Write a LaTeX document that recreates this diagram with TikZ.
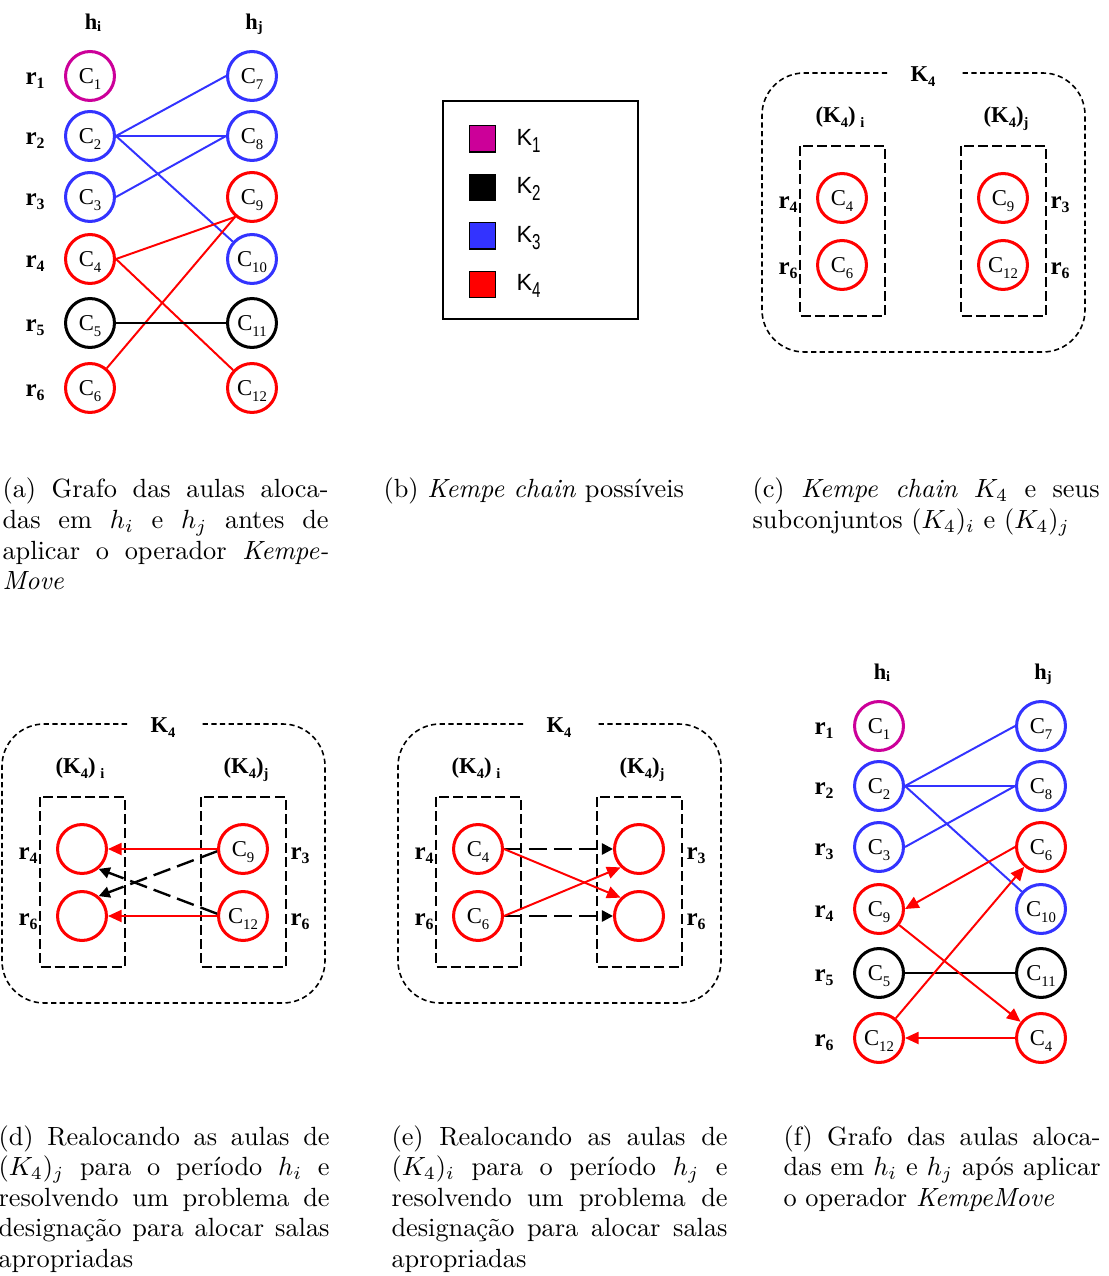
\documentclass[tikz,border=0pt]{standalone}
\usepackage{fontspec}
\usetikzlibrary{arrows.meta}
\newfontfamily\tms{Liberation Serif}
\newfontfamily\arl{Liberation Sans}
\definecolor{kmag}{RGB}{204,0,153}
\definecolor{kblue}{RGB}{51,51,255}
\definecolor{kred}{RGB}{255,0,0}

% labels with lowered indices
\newcommand\cLab[1]{C\raisebox{-2.1pt}{\fontsize{5.6}{6}\selectfont #1}}
\newcommand\rLab[1]{r\raisebox{-1.5pt}{\fontsize{6}{6}\selectfont #1}}
\newcommand\hLab[1]{h\raisebox{-0.8pt}{\fontsize{5.5}{6}\selectfont #1}}
\newcommand\kLab[1]{K\raisebox{-1.8pt}{\fontsize{5.5}{6}\selectfont #1}}
\newcommand\lLab[1]{K\raisebox{-2.8pt}{\scalebox{0.7}[1]{\fontsize{8.2}{9}\selectfont #1}}}
\newcommand\subLab[1]{\raisebox{-1.8pt}{\fontsize{5.5}{6}\selectfont #1}}

% justified caption lines
\newlength\capw
\newcommand\jl[1]{\hbox to \capw{#1}}
\newcommand\capbox[2]{\setlength\capw{#1}\vtop{\baselineskip=11.6pt\lineskiplimit=-20pt\relax #2}}

% frame of the K4 chain with its two subsets
\newcommand\kframe[1]{%
  \draw[outerbox] (887,73) -- (762,73) -- (762,352) -- (1085,352) -- (1085,73) -- (960,73);
  \node[klab] (#1k) at (923,74) {\kLab{4}};
  \draw[innerbox] (800,146) rectangle (885,316);
  \draw[innerbox] (961,146) rectangle (1046,316);
  \node[klab] (#1ki) at (840,115) {(\kLab{4})\hspace{1.8pt}\subLab{i}};
  \node[klab] (#1kj) at (1006,115) {(\kLab{4})\subLab{j}};
  \node[rowlab] (#1ra) at (788,203) {\rLab{4}};
  \node[rowlab] (#1rb) at (788,269) {\rLab{6}};
  \node[rowlab] (#1rc) at (1060,203) {\rLab{3}};
  \node[rowlab] (#1rd) at (1060,269) {\rLab{6}};
}

% headers and row labels of a timetable graph
\newcommand\hframe[1]{%
  \node[hlab] (#1hi) at (93,21.5) {\hLab{i}};
  \node[hlab] (#1hj) at (254,21.5) {\hLab{j}};
  \foreach \k/\y in {1/79,2/139,3/200,4/262,5/326,6/391}
    \node[rowlab] (#1r\k) at (35,\y) {\rLab{\k}};
}

\begin{document}
\begin{tikzpicture}[x=0.38pt,y=-0.38pt,
  circ/.style={circle,draw,line width=1.15pt,minimum size=18.6pt,inner sep=0pt,
    text depth=0pt,font=\tms\fontsize{8.6}{9}\selectfont},
  circmag/.style={circ,draw=kmag},
  circblue/.style={circ,draw=kblue},
  circred/.style={circ,draw=kred},
  circblack/.style={circ,draw=black},
  rowlab/.style={inner sep=0pt,text depth=0pt,font=\tms\bfseries\fontsize{9.5}{10}\selectfont},
  hlab/.style={inner sep=0pt,text depth=0pt,font=\tms\bfseries\fontsize{8.5}{9}\selectfont},
  klab/.style={inner sep=0pt,text depth=0pt,font=\tms\bfseries\fontsize{8.6}{9}\selectfont},
  bline/.style={draw=kblue,line width=0.75pt},
  rline/.style={draw=kred,line width=0.75pt},
  kline/.style={draw=black,line width=0.75pt},
  rarr/.style={rline,-{Triangle[length=5.2pt,width=4.6pt]}},
  darr/.style={draw=black,line width=0.9pt,dash pattern=on 6.8pt off 2.7pt,
    -{Triangle[length=4.2pt,width=4.2pt]}},
  outerbox/.style={line width=0.6pt,dash pattern=on 2pt off 1.3pt,rounded corners=16pt},
  innerbox/.style={line width=0.75pt,dash pattern=on 3.8pt off 1.6pt},
  sq/.style={draw=black,line width=0.4pt,minimum size=9.9pt,inner sep=0pt},
  legk/.style={inner sep=0pt,text depth=0pt,anchor=west,font=\arl\fontsize{8.9}{9}\selectfont},
  capt/.style={inner sep=0pt,anchor=base west,font=\fontsize{10}{11.6}\selectfont}
]
\useasboundingbox[fill=white] (0,0) rectangle (1108,1276);

% ---------- (a) graph before the move ----------
\hframe{a}
\node[circmag]   (a1)  at (90,76)   {\cLab{1}};
\node[circblue]  (a2)  at (90,136)  {\cLab{2}};
\node[circblue]  (a3)  at (90,197)  {\cLab{3}};
\node[circred]   (a4)  at (90,259)  {\cLab{4}};
\node[circblack] (a5)  at (90,323)  {\cLab{5}};
\node[circred]   (a6)  at (90,388)  {\cLab{6}};
\node[circblue]  (a7)  at (252,76)  {\cLab{7}};
\node[circblue]  (a8)  at (252,136) {\cLab{8}};
\node[circred]   (a9)  at (252,197) {\cLab{9}};
\node[circblue]  (a10) at (252,259) {\cLab{10}};
\node[circblack] (a11) at (252,323) {\cLab{11}};
\node[circred]   (a12) at (252,388) {\cLab{12}};
\draw[bline] (a2.east) -- (a7.west);
\draw[bline] (a2.east) -- (a8.west);
\draw[bline] (a3.east) -- (a8.west);
\draw[bline] (a2.east) -- (a10);
\draw[rline] (a4.east) -- (a9.230);
\draw[rline] (a4.east) -- (a12);
\draw[rline] (a6) -- (a9);
\draw[kline] (a5.east) -- (a11.west);

% ---------- (b) legend ----------
\draw[line width=0.75pt] (443,101) rectangle (638,319);
\node[sq,fill=kmag]  (s1) at (482.5,139)   {};
\node[sq,fill=black] (s2) at (482.5,187.5) {};
\node[sq,fill=kblue] (s3) at (482.5,236)   {};
\node[sq,fill=kred]  (s4) at (482.5,284.5) {};
\node[legk] (k1) at (516,137)   {\lLab{1}};
\node[legk] (k2) at (516,185.5) {\lLab{2}};
\node[legk] (k3) at (516,234)   {\lLab{3}};
\node[legk] (k4) at (516,282.5) {\lLab{4}};

% ---------- (c) chain K4 ----------
\kframe{c}
\node[circred] (c4)  at (842,198)  {\cLab{4}};
\node[circred] (c6)  at (842,265)  {\cLab{6}};
\node[circred] (c9)  at (1003,198) {\cLab{9}};
\node[circred] (c12) at (1003,265) {\cLab{12}};

% ---------- (d) moving (K4)_j to h_i ----------
\begin{scope}[shift={(-760,651)}]
\kframe{d}
\node[circred] (dl1) at (842,198)  {};
\node[circred] (dl2) at (842,265)  {};
\node[circred] (d9)  at (1003,198) {\cLab{9}};
\node[circred] (d12) at (1003,265) {\cLab{12}};
\draw[rarr] (d9.west) -- (dl1.east);
\draw[rarr] (d12.west) -- (dl2.east);
\draw[darr] (d9.185) -- (dl2.50);
\draw[darr] (d12.175) -- (dl1.-50);
\end{scope}

% ---------- (e) moving (K4)_i to h_j ----------
\begin{scope}[shift={(-364,651)}]
\kframe{e}
\node[circred] (e4)  at (842,198)  {\cLab{4}};
\node[circred] (e6)  at (842,265)  {\cLab{6}};
\node[circred] (er1) at (1003,198) {};
\node[circred] (er2) at (1003,265) {};
\draw[darr] (e4.east) -- (er1.west);
\draw[darr] (e6.east) -- (er2.west);
\draw[rarr] (e4.east) -- (er2.135);
\draw[rarr] (e6.east) -- (er1.225);
\end{scope}

% ---------- (f) graph after the move ----------
\begin{scope}[shift={(789,650)}]
\hframe{f}
\node[circmag]   (f1)  at (90,76)   {\cLab{1}};
\node[circblue]  (f2)  at (90,136)  {\cLab{2}};
\node[circblue]  (f3)  at (90,197)  {\cLab{3}};
\node[circred]   (f9)  at (90,259)  {\cLab{9}};
\node[circblack] (f5)  at (90,323)  {\cLab{5}};
\node[circred]   (f12) at (90,388)  {\cLab{12}};
\node[circblue]  (f7)  at (252,76)  {\cLab{7}};
\node[circblue]  (f8)  at (252,136) {\cLab{8}};
\node[circred]   (f6)  at (252,197) {\cLab{6}};
\node[circblue]  (f10) at (252,259) {\cLab{10}};
\node[circblack] (f11) at (252,323) {\cLab{11}};
\node[circred]   (f4)  at (252,388) {\cLab{4}};
\draw[bline] (f2.east) -- (f7.west);
\draw[bline] (f2.east) -- (f8.west);
\draw[bline] (f3.east) -- (f8.west);
\draw[bline] (f2.east) -- (f10);
\draw[kline] (f5.east) -- (f11.west);
\draw[rarr] (f6.west) -- (f9.east);
\draw[rarr] (f12) -- (f6);
\draw[rarr] (f9) -- (f4);
\draw[rarr] (f4.west) -- (f12.east);
\end{scope}

% ---------- captions ----------
\node[capt] (capa) at (2,498) {\capbox{123.9pt}{%
  \jl{(a) Grafo das aulas aloca-}%
  \jl{das em $h_i$ e $h_j$ antes de}%
  \jl{aplicar o operador \textit{Kempe-}}%
  \hbox{\textit{Move}}}};
\node[capt] (capb) at (383,498) {(b) \textit{Kempe chain} possíveis};
\node[capt] (capc) at (752,498) {\capbox{131.9pt}{%
  \jl{(c) \textit{Kempe chain} $K_4$ e seus}%
  \hbox{subconjuntos $(K_4)_i$ e $(K_4)_j$}}};
\node[capt] (capd) at (-2,1145) {\capbox{125.8pt}{%
  \jl{(d) Realocando as aulas de}%
  \jl{$(K_4)_j$ para o período $h_i$ e}%
  \jl{resolvendo um problema de}%
  \jl{designação para alocar salas}%
  \hbox{apropriadas}}};
\node[capt] (cape) at (391,1145) {\capbox{127.7pt}{%
  \jl{(e) Realocando as aulas de}%
  \jl{$(K_4)_i$ para o período $h_j$ e}%
  \jl{resolvendo um problema de}%
  \jl{designação para alocar salas}%
  \hbox{apropriadas}}};
\node[capt] (capf) at (783,1145) {\capbox{120.5pt}{%
  \jl{(f) Grafo das aulas aloca-}%
  \jl{das em $h_i$ e $h_j$ após aplicar}%
  \hbox{o operador \textit{KempeMove}}}};
\end{tikzpicture}
\end{document}
